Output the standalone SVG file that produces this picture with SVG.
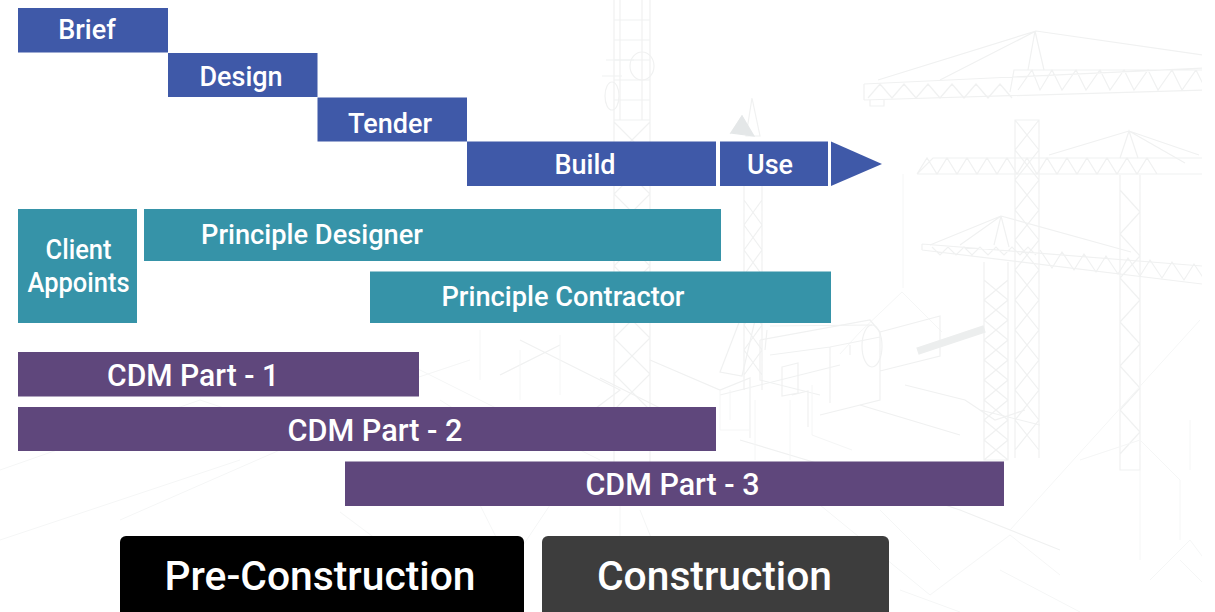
<svg xmlns="http://www.w3.org/2000/svg" width="1215" height="612" viewBox="0 0 1215 612">
<defs>
<style>
.t{font-family:Roboto,"Liberation Sans",sans-serif;font-weight:500;fill:#fff;text-anchor:middle}
.s{font-size:27px}
.c{font-size:30.500px}
.b{font-size:41px}
.blue{fill:#3f59a8}
.teal{fill:#3693a8}
.pur{fill:#5f477c}
.bg path,.bg ellipse,.bg rect{fill:none;stroke:#f0f1f1;stroke-width:1.2}
.bg .f{stroke:#f5f6f6;stroke-width:1}
</style>
<clipPath id="bgclip"><rect x="0" y="0" width="1202" height="612"/></clipPath>
</defs>
<rect width="1215" height="612" fill="#fff"/>
<g class="bg" clip-path="url(#bgclip)">
<!-- large crane -->
<path d="M1015 458V120h24V458M1015 120l24 30-24 30 24 30-24 30 24 30-24 30 24 30-24 30 24 30-24 30 24 30M1039 120l-24 30 24 30-24 30 24 30-24 30 24 30-24 30 24 30-24 30 24 30-24 30"/>
<path d="M864 84l340-16M864 100l340-10M864 84v16M1010 92l4-22h190M1018 90l14-20 8 20 12-20 10 20 14-20 10 20 14-20 10 20 14-20 10 20 14-20 10 20 14-20 10 20 14-20 10 20"/>
<path d="M868 98l12-14 12 14 12-14 12 14 12-14 12 14 12-14 12 14 12-14 12 14 12-14 12 14"/>
<path d="M1028 70l7-39 9 39M1036 31L878 80M1036 31L940 80M1036 31l167 24M870 100v6h14v-6"/>
<!-- mid crane -->
<path d="M917 174l16-16h270M917 174h286M917 174l10-16 10 16 10-16 10 16 10-16 10 16 10-16 10 16 10-16 10 16 10-16 10 16 10-16 10 16 10-16 10 16 10-16 10 16 10-16 10 16 10-16 10 16 10-16 10 16"/>
<path d="M1120 158l9-27 9 27M1129 131l-80 24M1129 131l56 32M1129 131l70 24"/>
<path d="M1120 175V470h20V175M1120 190l20 22-20 22 20 22-20 22 20 22-20 22 20 22-20 22 20 22-20 22 20 22-20 22"/>
<!-- low crane -->
<path d="M922 244l280 22M922 250l280 34M922 244v6M932 247l8 8 8-8 8 8 8-8 8 8 8-8 8 8 8-8 8 8 8-8 8 8 8-8 8 8"/>
<path d="M1040 250l12 18 10-16 12 18 10-16 12 18 10-16 12 18 10-16 12 18 10-16 12 18 10-16 12 18 10-16 12 18 10-16 12 18"/>
<path d="M994 245l7-29 8 31M1001 216L930 245M1001 216L960 245M1001 216l130 36"/>
<path d="M984 262V460h24V262M984 280l24 20-24 20 24 20-24 20 24 20-24 20 24 20-24 20 24 20M1008 280l-24 20 24 20-24 20 24 20-24 20 24 20-24 20 24 20-24 20"/>
<path class="f" d="M903 174V288M902 292l-42 40-20 22M902 292l40 40"/>
<!-- left tower -->
<path d="M614 0V500M650 0V500M614 122l36 36-36 36 36 36-36 36 36 36-36 36 36 36-36 36 36 36M650 122l-36 36 36 36-36 36 36 36-36 36 36 36-36 36 36 36-36 36"/>
<path d="M620 0V120M642 0V120M614 20h36M614 40h36M614 60h36M614 80h36M614 100h36M614 120h36"/>
<ellipse cx="642" cy="66" rx="12" ry="14"/><ellipse cx="612" cy="96" rx="7" ry="14"/>
<path d="M606 60h28M602 76h20"/>
<!-- second tower -->
<path d="M744 186V390M762 186V390M744 200l18 25-18 25 18 25-18 25 18 25-18 25 18 25M762 200l-18 25 18 25-18 25 18 25-18 25 18 25-18 25"/>
<path d="M730 134l12-18 10 20M752 98l-6 38h14z"/>
<path d="M731 133l11-17 12 20z" style="fill:#e4e7e8;stroke:#e4e7e8"/>
<path d="M740 320l-20 52 22 4 14-60" />
<!-- building -->
<path d="M760 340l110-20 10 12M760 340l0 40 60 15M770 355l60-8 50-10M880 332V400l-60 15M830 347v56M880 332l60-16v40l-60 15"/>
<ellipse cx="872" cy="346" rx="10" ry="21"/>
<path d="M770 326l102-1M765 350l2-20M782 367l16-4v30l-16 3zM792 395l16-4v36"/>
<path d="M917 348l66-22 2 6-66 22z" style="fill:#eceeee;stroke:#eceeee"/>
<path d="M850 355v-10M905 385l60 15 30 20 30-10M860 405l100 30M980 410l60 15M650 360l70 30 30-12v60M600 378l100 50M520 340l100 50-80 60M560 345l-60 30M720 395l120-30M740 440l100 30 120 40 100 40"/>
<path class="f" d="M720 390v40h30v-50M730 390v30M755 400v60M790 400v60M812 385v50l40 15"/>
<path class="f" d="M470 360l-60 20M480 330v50M520 350v50M560 335v60M440 400l80 50M400 360l200 100"/>
<path class="f" d="M0 470l200-70 120 40M0 540l240-80M120 520l160-70M480 505l30 60 40-60M620 505v45M640 510l20 50M820 505l110 90 80-60 50 40M880 510l60 60M1010 530l190-210M1080 460l60-20 40 40v60M1190 420v50M1140 470v90M1180 560l30 30M1150 580l40-40 30 40M900 590l60 22M1000 570l80 42M340 512l120 90"/>
</g>
<g id="connectors"></g>
<g id="brief"><rect class="blue" x="18" y="8" width="150" height="44.500"/><text class="t s" x="87" y="39">Brief</text></g>
<g id="design"><rect class="blue" x="168" y="53" width="149.500" height="44"/><text class="t s" x="241" y="86">Design</text></g>
<g id="tender"><rect class="blue" x="317.500" y="97.500" width="149.500" height="44"/><text class="t s" x="390" y="133">Tender</text></g>
<g id="build"><rect class="blue" x="467" y="141.500" width="249" height="44.500"/><text class="t s" x="585" y="174">Build</text></g>
<g id="use"><rect class="blue" x="720" y="141.500" width="108" height="44.500"/><text class="t s" x="770" y="174">Use</text></g>
<g id="arrow"><path class="blue" d="M831 141.500 882 164 831 186z"/></g>
<g id="client"><rect class="teal" x="18" y="209" width="119" height="114"/><text class="t s" x="78.500" y="259" textLength="66" lengthAdjust="spacingAndGlyphs">Client</text><text class="t s" x="78.500" y="292" textLength="102" lengthAdjust="spacingAndGlyphs">Appoints</text></g>
<g id="principle-designer"><rect class="teal" x="144" y="209" width="577" height="52"/><text class="t s" x="312" y="244" textLength="222" lengthAdjust="spacingAndGlyphs">Principle Designer</text></g>
<g id="principle-contractor"><rect class="teal" x="370" y="271.500" width="461" height="51.500"/><text class="t s" x="563" y="306" textLength="243" lengthAdjust="spacingAndGlyphs">Principle Contractor</text></g>
<g id="cdm1"><rect class="pur" x="18" y="352" width="401" height="44.500"/><text class="t c" x="193" y="386" textLength="172" lengthAdjust="spacingAndGlyphs">CDM Part - 1</text></g>
<g id="cdm2"><rect class="pur" x="18" y="407" width="698" height="44"/><text class="t c" x="375" y="441" textLength="175" lengthAdjust="spacingAndGlyphs">CDM Part - 2</text></g>
<g id="cdm3"><rect class="pur" x="345" y="461.500" width="659" height="44.500"/><text class="t c" x="672.500" y="495" textLength="174" lengthAdjust="spacingAndGlyphs">CDM Part - 3</text></g>
<g id="pre-construction"><path fill="#000" d="M120 612V542a6 6 0 0 1 6-6H518a6 6 0 0 1 6 6V612z"/><text class="t b" x="320" y="590" textLength="311" lengthAdjust="spacingAndGlyphs">Pre-Construction</text></g>
<g id="construction"><path fill="#3d3d3d" d="M542 612V542a6 6 0 0 1 6-6H883a6 6 0 0 1 6 6V612z"/><text class="t b" x="714.500" y="590" textLength="235" lengthAdjust="spacingAndGlyphs">Construction</text></g>
</svg>
